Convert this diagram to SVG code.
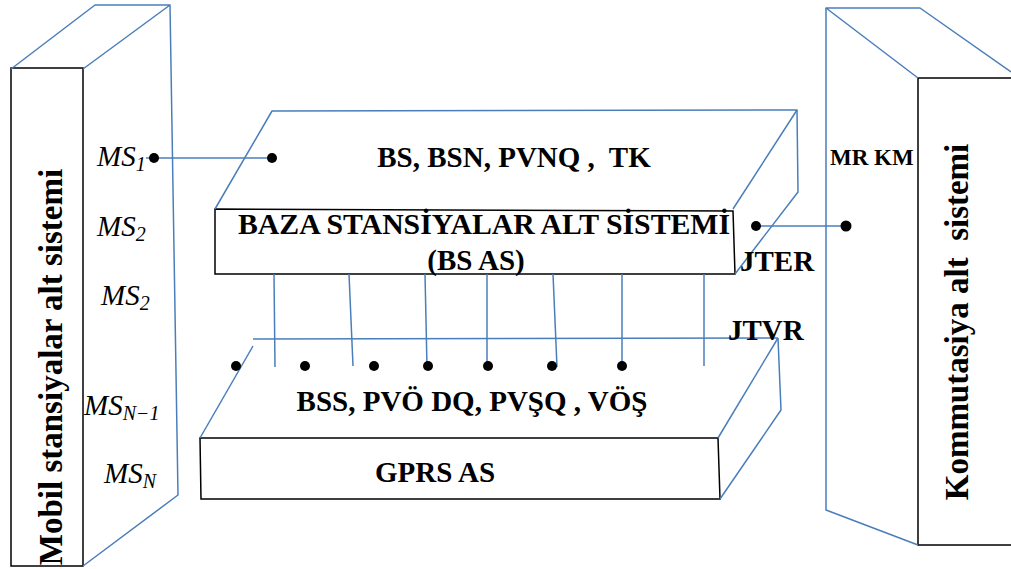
<svg xmlns="http://www.w3.org/2000/svg" width="1011" height="569" viewBox="0 0 1011 569">
  <style>
    .edge { fill: none; stroke: #4a7ebb; stroke-width: 1.5; stroke-linejoin: round; }
    .face { fill: #ffffff; stroke: #000000; stroke-width: 1.5; }
    .lbl { font-family: "Liberation Serif", "Times New Roman", serif; font-weight: bold; fill: #000000; }
    .big { font-size: 29px; }
    .side { font-size: 33px; }
    .small { font-size: 23px; }
    .ms { font-family: "Liberation Serif", "Times New Roman", serif; font-style: italic; font-size: 29px; fill: #000000; }
    .sub { font-size: 20px; }
    .dot { fill: #000000; }
  </style>

  <rect width="1011" height="569" fill="#ffffff"/>

  <!-- Mobile station subsystem (left slab) -->
  <g id="mobile-subsystem">
    <rect class="face" x="11" y="68" width="72" height="498"/>
    <polyline class="edge" points="11,69 95,5 170,5 83,69"/>
    <polyline class="edge" points="170,5 178,495 83,566"/>
    <text class="lbl side" transform="translate(62,367) rotate(-90)" text-anchor="middle">Mobil stansiyalar alt sistemi</text>
    <text class="ms" x="97" y="166">MS<tspan class="sub" dy="5">1</tspan></text>
    <text class="ms" x="97" y="236">MS<tspan class="sub" dy="5">2</tspan></text>
    <text class="ms" x="101" y="305">MS<tspan class="sub" dy="5">2</tspan></text>
    <text class="ms" x="84" y="415">MS<tspan class="sub" dy="5">N−1</tspan></text>
    <text class="ms" x="104" y="483">MS<tspan class="sub" dy="5">N</tspan></text>
  </g>

  <!-- Base station subsystem (upper slab) -->
  <g id="bs-subsystem">
    <polygon class="face" points="215,209 733,211 735,274 215,274" stroke="#4a7ebb"/>
    <polyline class="edge" points="215,209 272,111 797,110 733,209"/>
    <polyline class="edge" points="797,110 798,192 735,274"/>
    <text class="lbl big" x="514" y="167" text-anchor="middle" xml:space="preserve">BS, BSN, PVNQ ,  TK</text>
    <text class="lbl big" x="238" y="234" textLength="492" lengthAdjust="spacingAndGlyphs">BAZA STANSİYALAR ALT SİSTEMİ</text>
    <text class="lbl big" x="476" y="270" text-anchor="middle">(BS AS)</text>
    <text class="lbl big" x="740" y="271">JTER</text>
  </g>

  <!-- GPRS subsystem (lower slab) -->
  <g id="gprs-subsystem">
    <polygon class="face" points="200,438 718,438 720,499 201,499" stroke="#4a7ebb"/>
    <line class="edge" x1="253" y1="339" x2="778" y2="338"/>
    <line class="edge" x1="253" y1="346" x2="200" y2="438"/>
    <line class="edge" x1="778" y1="338" x2="718" y2="438"/>
    <polyline class="edge" points="778,338 781,410 720,499"/>
    <text class="lbl big" x="472" y="411" text-anchor="middle">BSS, PVÖ DQ, PVŞQ , VÖŞ</text>
    <text class="lbl big" x="435" y="482" text-anchor="middle">GPRS AS</text>
    <text class="lbl big" x="728" y="340">JTVR</text>
  </g>

  <!-- Switching subsystem (right slab) -->
  <g id="switching-subsystem">
    <rect class="face" x="918" y="78" width="100" height="467"/>
    <polyline class="edge" points="918,78 826,8 920,8 1011,72"/>
    <polyline class="edge" points="826,8 826,510 918,545"/>
    <text class="lbl side" transform="translate(968,322) rotate(-90)" text-anchor="middle" xml:space="preserve">Kommutasiya alt  sistemi</text>
    <text class="lbl small" x="830" y="165">MR KM</text>
  </g>

  <!-- Connectors -->
  <g id="connectors">
    <line class="edge" x1="146" y1="158" x2="272" y2="158"/>
    <line class="edge" x1="756" y1="226" x2="846" y2="226"/>
    <line class="edge" x1="274" y1="274" x2="275" y2="367"/>
    <line class="edge" x1="349" y1="274" x2="353" y2="366"/>
    <line class="edge" x1="425" y1="274" x2="427" y2="367"/>
    <line class="edge" x1="487" y1="274" x2="487" y2="367"/>
    <line class="edge" x1="553" y1="274" x2="557" y2="367"/>
    <line class="edge" x1="622" y1="274" x2="622" y2="367"/>
    <line class="edge" x1="704" y1="274" x2="704" y2="366"/>
    <circle class="dot" cx="154" cy="158" r="5"/>
    <circle class="dot" cx="272" cy="158" r="5"/>
    <circle class="dot" cx="756" cy="226" r="5"/>
    <circle class="dot" cx="846" cy="226" r="5.5"/>
    <circle class="dot" cx="236" cy="366" r="5"/>
    <circle class="dot" cx="305" cy="366" r="5"/>
    <circle class="dot" cx="374" cy="366" r="5"/>
    <circle class="dot" cx="428" cy="366" r="5"/>
    <circle class="dot" cx="488" cy="366" r="5"/>
    <circle class="dot" cx="552" cy="366" r="5"/>
    <circle class="dot" cx="622" cy="366" r="5"/>
  </g>
</svg>
